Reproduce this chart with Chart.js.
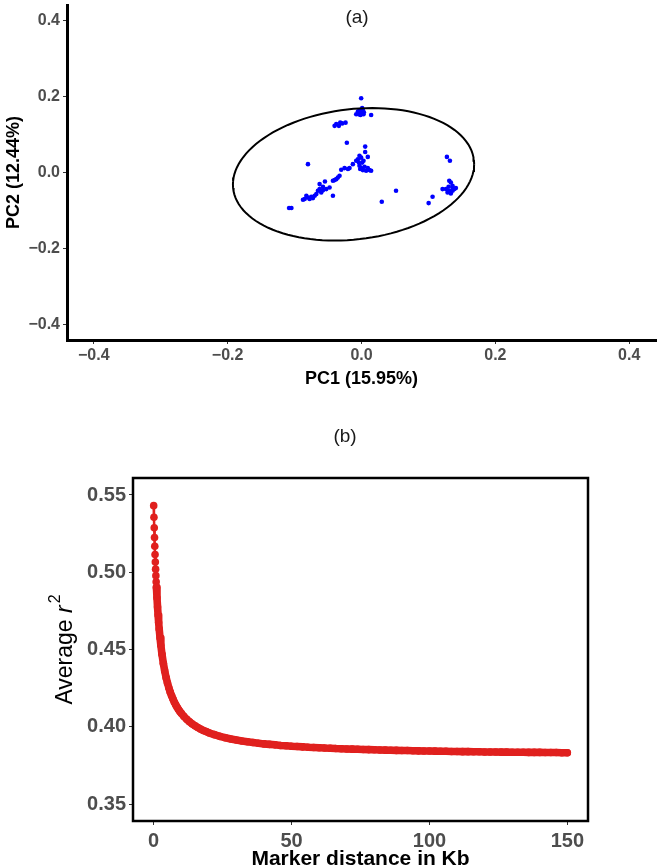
<!DOCTYPE html>
<html><head><meta charset="utf-8">
<script src="https://cdn.jsdelivr.net/npm/chart.js@4.4.0/dist/chart.umd.min.js"></script>
<style>
html,body{margin:0;padding:0;background:#fff;overflow:hidden;}
#wrap{position:relative;width:661px;height:866px;}
#c1{position:absolute;left:0;top:0;}
#c2{position:absolute;left:0;top:400px;}
</style></head><body>
<div id="wrap"><canvas id="c1" width="661" height="400"></canvas><canvas id="c2" width="661" height="466"></canvas></div>
<script>
// ---------- Panel (a): PCA scores ----------
const pc1 = [
 -0.0005,-0.0079,-0.0054,-0.0030,-0.0005,0.0020,0.0030,-0.0040,0.0010,-0.0015,0.0035,
 0.0144,
 -0.0402,-0.0377,-0.0338,-0.0318,-0.0288,-0.0238,
 -0.0219,0.0055,0.0055,0.0094,-0.0800,0.1276,0.1321,
 -0.0030,-0.0005,-0.0054,-0.0079,-0.0129,-0.0179,-0.0203,-0.0030,-0.0005,0.0020,0.0069,0.0119,0.0144,0.0094,0.0045,0.0010,0.0030,-0.0020,-0.0040,
 -0.0303,-0.0253,-0.0328,-0.0353,-0.0402,-0.0377,-0.0427,-0.0546,-0.0576,-0.0626,-0.0651,-0.0601,-0.0675,-0.0700,-0.0750,-0.0800,-0.0849,-0.0874,-0.0775,-0.0824,-0.0725,-0.0526,-0.0477,-0.0427,-0.1047,-0.1082,-0.0626,-0.0576,
 0.1311,0.1335,0.1360,0.1385,0.1360,0.1311,0.1261,0.1211,0.1410,0.1286,0.1335,0.1360,0.1301,
 0.1062,0.1003,0.0516,0.0303
];
const pc2 = [
 0.195,0.153,0.160,0.164,0.158,0.164,0.153,0.153,0.169,0.151,0.158,
 0.151,
 0.1226,0.127,0.1226,0.131,0.129,0.131,
 0.078,0.068,0.054,0.041,0.022,0.041,0.031,
 0.044,0.039,0.035,0.031,0.022,0.0115,0.009,0.0176,0.0115,0.0063,0.0045,0.0063,0.0045,0.0115,0.015,0.026,0.031,0.009,0.026,
 0.0071,0.0115,-0.0087,-0.0131,-0.020,-0.0175,-0.0218,-0.0236,-0.0375,-0.0436,-0.048,-0.0525,-0.0567,-0.0612,-0.0638,-0.0656,-0.0698,-0.0716,-0.0698,-0.0612,-0.0673,-0.0436,-0.0394,-0.0612,-0.0934,-0.0934,-0.0305,-0.0464,
 -0.0218,-0.0262,-0.0349,-0.0436,-0.048,-0.048,-0.0436,-0.0436,-0.041,-0.0525,-0.055,-0.0393,-0.0375,
 -0.0638,-0.0804,-0.048,-0.0769
];
// 95% ellipse: centre, first and second conjugate semi-axis vectors (PC1, PC2 units)
const ellipseCentre = [-0.0119, -0.0047];
const ellipseAxisU = [0.1802, 0.0268];
const ellipseAxisV = [0.0, 0.1719];
const pcaTicks = [-0.4, -0.2, 0.0, 0.2, 0.4];

// ---------- Panel (b): LD decay ----------
const distanceKb = [0,0.1,0.2,0.3,0.4,0.5,0.6,0.7,0.8,0.9,1.0,1.2,1.4,1.6,1.8,2.0,2.3,2.6,3.0,3.5,4.0,4.5,5,5.5,6,6.5,7,7.5,8,8.5,9,9.5,10,11,12,13,14,15,16,17,18,19,20,22,24,26,28,30,32,34,36,38,40,42,44,46,48,50,52,54,56,58,60,62,64,66,68,70,72,74,76,78,80,82,84,86,88,90,92,94,96,98,100,102,104,106,108,110,112,114,116,118,120,122,124,126,128,130,132,134,136,138,140,142,144,146,148,150];
const avgR2 = [0.5431,0.5356,0.5288,0.5225,0.5168,0.5115,0.5066,0.5020,0.4978,0.4938,0.4902,0.4835,0.4775,0.4723,0.4675,0.4633,0.4576,0.4527,0.4470,0.4411,0.4361,0.4319,0.4283,0.4252,0.4224,0.4200,0.4179,0.4159,0.4142,0.4126,0.4112,0.4099,0.4087,0.4066,0.4048,0.4032,0.4018,0.4006,0.3995,0.3985,0.3976,0.3969,0.3961,0.3949,0.3938,0.3929,0.3921,0.3914,0.3908,0.3903,0.3898,0.3893,0.3889,0.3886,0.3883,0.3879,0.3877,0.3874,0.3872,0.3870,0.3867,0.3866,0.3864,0.3862,0.3861,0.3859,0.3858,0.3856,0.3855,0.3854,0.3853,0.3852,0.3851,0.3850,0.3849,0.3848,0.3847,0.3846,0.3846,0.3845,0.3844,0.3843,0.3843,0.3842,0.3841,0.3841,0.3840,0.3840,0.3839,0.3839,0.3838,0.3838,0.3837,0.3837,0.3837,0.3836,0.3836,0.3835,0.3835,0.3835,0.3834,0.3834,0.3834,0.3833,0.3833,0.3833,0.3832,0.3832];
const r2Ticks = [0.35, 0.40, 0.45, 0.50, 0.55];
const distTicks = [0, 50, 100, 150];

const FAM = '"Liberation Sans", Arial, sans-serif';
const TICK_COLOR = '#4D4D4D';

function fmtPCA(v){ const s = Math.abs(v).toFixed(1); return v < -1e-9 ? '\u2212' + s : s; }

// ellipse outline built from its centre and axis vectors
const ellipsePts = [];
for (let i = 0; i <= 120; i++) {
  const t = i / 120 * 2 * Math.PI;
  ellipsePts.push({x: ellipseCentre[0] + ellipseAxisU[0]*Math.cos(t) + ellipseAxisV[0]*Math.sin(t),
                   y: ellipseCentre[1] + ellipseAxisU[1]*Math.cos(t) + ellipseAxisV[1]*Math.sin(t)});
}

const labelPlugin = (txt, x, y) => ({
  id: 'panelLabel',
  afterDraw(chart){
    const ctx = chart.ctx; ctx.save();
    ctx.font = '19px ' + FAM;
    ctx.fillStyle = '#1a1a1a'; ctx.textAlign = 'center'; ctx.textBaseline = 'middle';
    ctx.fillText(txt, x, y); ctx.restore();
  }
});

new Chart(document.getElementById('c1'), {
  type: 'scatter',
  data: { datasets: [
    { data: pc1.map((x, i) => ({x, y: pc2[i]})), backgroundColor: '#0000FF', borderWidth: 0, pointRadius: 2.3, order: 2 },
    { data: ellipsePts, showLine: true, borderColor: '#000', borderWidth: 2, pointRadius: 0, fill: false, tension: 0, order: 1 }
  ]},
  options: {
    responsive: false, animation: false,
    layout: { padding: {left: 0, right: 5, top: 5, bottom: 0} },
    plugins: { legend: {display: false}, tooltip: {enabled: false} },
    scales: {
      x: {
        type: 'linear', min: -0.44, max: 0.44,
        afterBuildTicks: s => { s.ticks = pcaTicks.map(v => ({value: v})); },
        afterFit: s => { s.height = 60; s.paddingLeft = 0; s.paddingRight = 0; },
        ticks: { callback: v => fmtPCA(v), font: {family: FAM, weight: 'bold', size: 16}, color: TICK_COLOR, padding: 2, maxRotation: 0 },
        grid: { drawOnChartArea: false, tickLength: 4, color: '#333', tickWidth: 1 },
        border: { display: true, color: '#000', width: 3 },
        title: { display: true, text: 'PC1 (15.95%)', color: '#000', font: {family: FAM, weight: 'bold', size: 18, lineHeight: 1.2}, padding: {top: 0, bottom: 10} }
      },
      y: {
        type: 'linear', min: -0.44, max: 0.44,
        afterBuildTicks: s => { s.ticks = pcaTicks.map(v => ({value: v})); },
        afterFit: s => { s.width = 67; s.paddingTop = 0; s.paddingBottom = 0; },
        ticks: { callback: v => fmtPCA(v), font: {family: FAM, weight: 'bold', size: 16}, color: TICK_COLOR, padding: 3 },
        grid: { drawOnChartArea: false, tickLength: 4, color: '#333', tickWidth: 1 },
        border: { display: true, color: '#000', width: 3 },
        title: { display: true, text: 'PC2 (12.44%)', color: '#000', font: {family: FAM, weight: 'bold', size: 18, lineHeight: 1.2}, padding: {top: 3, bottom: 0} }
      }
    }
  },
  plugins: [labelPlugin('(a)', 357, 18)]
});

const framePlugin = {
  id: 'frame',
  afterDraw(chart){
    const {ctx, chartArea: a} = chart; ctx.save();
    ctx.strokeStyle = '#000'; ctx.lineWidth = 2.5;
    ctx.strokeRect(a.left, a.top, a.right - a.left, a.bottom - a.top);
    // y axis title: Average r^2
    ctx.translate(66, (a.top + a.bottom) / 2);
    ctx.rotate(-Math.PI / 2);
    ctx.fillStyle = '#000'; ctx.textBaseline = 'middle';
    const f1 = '23px ' + FAM;
    const f2 = 'italic 23px ' + FAM;
    const f3 = '16px ' + FAM;
    ctx.font = f1; const w1 = ctx.measureText('Average ').width;
    ctx.font = f2; const w2 = ctx.measureText('r').width;
    ctx.font = f3; const w3 = ctx.measureText('2').width;
    let x = -(w1 + w2 + w3 + 2) / 2;
    ctx.font = f1; ctx.fillText('Average ', x, 0); x += w1;
    ctx.font = f2; ctx.fillText('r', x, 0); x += w2 + 2;
    ctx.font = f3; ctx.fillText('2', x, -10);
    ctx.restore();
  }
};

new Chart(document.getElementById('c2'), {
  type: 'line',
  data: { datasets: [{
    data: distanceKb.map((x, i) => ({x, y: avgR2[i]})),
    borderColor: '#E0201E', backgroundColor: '#E0201E', borderWidth: 2.5,
    pointRadius: 3.8, pointBorderWidth: 0, tension: 0, fill: false,
    segment: { borderWidth: c => (c.p0.parsed.x >= 1.0 ? 7.6 : 2.5) },
    borderCapStyle: 'round', borderJoinStyle: 'round'
  }]},
  options: {
    responsive: false, animation: false,
    layout: { padding: {left: 0, right: 73, top: 78, bottom: 0} },
    plugins: { legend: {display: false}, tooltip: {enabled: false} },
    scales: {
      x: {
        type: 'linear', min: -7.5, max: 157.5,
        afterBuildTicks: s => { s.ticks = distTicks.map(v => ({value: v})); },
        afterFit: s => { s.height = 45; },
        ticks: { callback: v => String(v), font: {family: FAM, weight: 'bold', size: 20}, color: TICK_COLOR, padding: 4, maxRotation: 0 },
        grid: { drawOnChartArea: false, tickLength: 4, color: '#333', tickWidth: 1 },
        border: { display: false },
        title: { display: true, text: 'Marker distance in Kb', color: '#000', font: {family: FAM, weight: 'bold', size: 21, lineHeight: 0.6}, padding: {top: 0, bottom: 0} }
      },
      y: {
        type: 'linear', min: 0.339, max: 0.561,
        afterBuildTicks: s => { s.ticks = r2Ticks.map(v => ({value: v})); },
        afterFit: s => { s.width = 133; },
        ticks: { callback: v => v.toFixed(2), font: {family: FAM, weight: 'bold', size: 20}, color: TICK_COLOR, padding: 3 },
        grid: { drawOnChartArea: false, tickLength: 4, color: '#333', tickWidth: 1 },
        border: { display: false }
      }
    }
  },
  plugins: [framePlugin, labelPlugin('(b)', 345, 37)]
});
</script>
</body></html>
